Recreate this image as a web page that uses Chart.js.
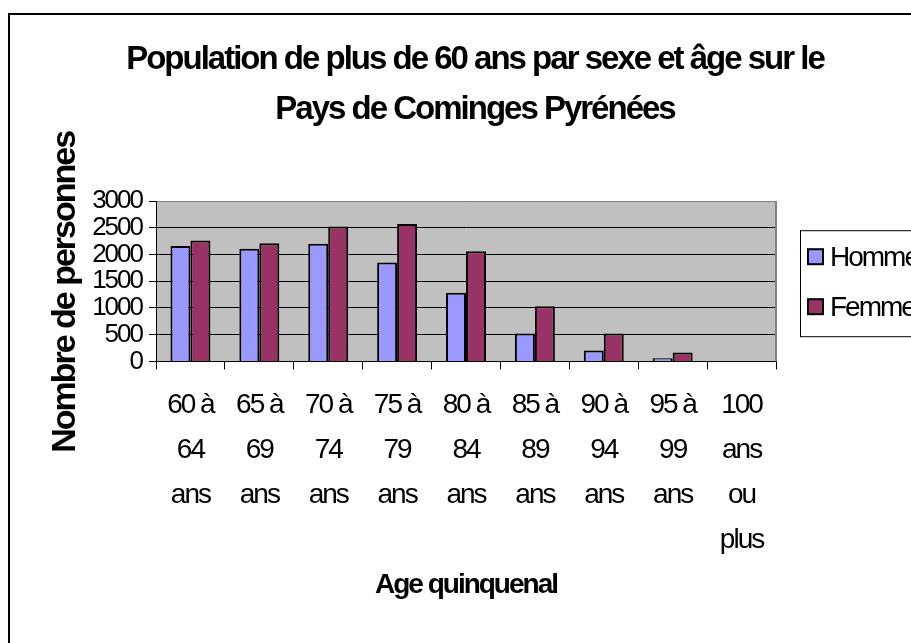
<!DOCTYPE html>
<html>
<head>
<meta charset="utf-8">
<script src="https://cdn.jsdelivr.net/npm/chart.js@4.4.1/dist/chart.umd.min.js"></script>
<style>
    html, body { margin: 0; padding: 0; overflow: hidden; background: #ffffff; }
    #graphe-container { width: 960px; height: 643px; }
</style>
</head>
<body>
<div id="graphe-container"><canvas id="graphPopulation" width="960" height="643"></canvas></div>
<script>
var ages = [
    ['60 à', '64', 'ans'], ['65 à', '69', 'ans'], ['70 à', '74', 'ans'],
    ['75 à', '79', 'ans'], ['80 à', '84', 'ans'], ['85 à', '89', 'ans'],
    ['90 à', '94', 'ans'], ['95 à', '99', 'ans'], ['100', 'ans', 'ou', 'plus']
];
var hommes = [2160, 2105, 2200, 1850, 1285, 520, 205, 60, 0];
var femmes = [2260, 2210, 2525, 2570, 2060, 1030, 520, 165, 0];
var titre = ['Population de plus de 60 ans par sexe et âge sur le', 'Pays de Cominges Pyrénées'];
var titreX = 'Age quinquenal';
// espaces en fin : le titre Excel est un peu plus bas que le milieu de l'axe
var titreY = 'Nombre de personnes   ';

var police = "'Liberation Sans', Arial, sans-serif";

Chart.defaults.color = '#000000';
Chart.defaults.font.family = police;

// texte serré comme dans l'original
var serrage = function (chart) {
    chart.ctx.letterSpacing = '-2px';
};

var cadre = {
    id: 'cadre',
    beforeUpdate: serrage,
    beforeDraw: function (chart) {
        serrage(chart);
        var ctx = chart.ctx;
        var a = chart.chartArea;
        ctx.save();
        ctx.fillStyle = '#ffffff';
        ctx.fillRect(0, 0, chart.width, chart.height);
        ctx.strokeStyle = '#000000';
        ctx.lineWidth = 2;
        ctx.strokeRect(9, 14, chart.width + 40, chart.height + 40);
        ctx.fillStyle = '#c0c0c0';
        ctx.fillRect(a.left, a.top, a.right - a.left, a.bottom - a.top);
        ctx.restore();
    },
    beforeDatasetsDraw: function (chart) {
        var ctx = chart.ctx;
        var a = chart.chartArea;
        ctx.save();
        ctx.strokeStyle = '#808080';
        ctx.lineWidth = 2;
        ctx.beginPath();
        ctx.moveTo(a.right, a.top);
        ctx.lineTo(a.right, a.bottom);
        ctx.stroke();
        ctx.restore();
    },
    // légende encadrée à droite
    afterDraw: function (chart) {
        var ctx = chart.ctx;
        var a = chart.chartArea;
        var milieu = (a.top + a.bottom) / 2;
        var gauche = a.right + 24;
        ctx.save();
        ctx.fillStyle = '#ffffff';
        ctx.fillRect(gauche, milieu - 51, 300, 106);
        ctx.strokeStyle = '#000000';
        ctx.lineWidth = 1;
        ctx.strokeRect(gauche + 0.5, milieu - 50.5, 300, 106);
        ctx.font = '28px ' + police;
        ctx.textBaseline = 'middle';
        chart.data.datasets.forEach(function (ds, i) {
            var y = milieu - 24 + i * 50;
            ctx.fillStyle = ds.backgroundColor;
            ctx.fillRect(gauche + 8, y - 8, 15, 15);
            ctx.strokeStyle = '#000000';
            ctx.lineWidth = 2;
            ctx.strokeRect(gauche + 8, y - 8, 15, 15);
            ctx.fillStyle = '#000000';
            ctx.fillText(ds.label, gauche + 30, y + 1);
        });
        ctx.restore();
    }
};

new Chart(document.getElementById('graphPopulation').getContext('2d'), {
    type: 'bar',
    data: {
        labels: ages,
        datasets: [{
            label: 'Hommes',
            data: hommes,
            backgroundColor: '#9999ff',
            borderColor: '#000000',
            borderWidth: 2,
            borderSkipped: 'start'
        }, {
            label: 'Femmes',
            data: femmes,
            backgroundColor: '#993366',
            borderColor: '#000000',
            borderWidth: 2,
            borderSkipped: 'start'
        }]
    },
    options: {
        responsive: false,
        animation: false,
        layout: { padding: { left: 40, right: 50, top: 20, bottom: 40 } },
        datasets: { bar: { categoryPercentage: 0.58, barPercentage: 1 } },
        plugins: {
            legend: { display: false },
            tooltip: { enabled: false },
            title: {
                display: true,
                text: titre,
                font: { size: 33, weight: 'bold', lineHeight: '50px' },
                padding: { top: 15, bottom: 66 }
            }
        },
        scales: {
            x: {
                grid: {
                    display: true,
                    drawOnChartArea: false,
                    drawTicks: true,
                    tickLength: 8,
                    color: '#000000',
                    offset: true
                },
                border: { display: true, color: '#000000', width: 1 },
                ticks: {
                    maxRotation: 0,
                    autoSkip: false,
                    padding: 13,
                    font: { size: 28, lineHeight: '45px' }
                },
                title: {
                    display: true,
                    text: titreX,
                    font: { size: 28, weight: 'bold' },
                    padding: { top: -7, bottom: 1 }
                }
            },
            y: {
                min: 0,
                max: 3000,
                ticks: {
                    stepSize: 500,
                    autoSkip: false,
                    padding: 7,
                    font: { size: 26 },
                    callback: function (v) { return String(v); }
                },
                grid: {
                    tickLength: 7,
                    color: function (c) { return c.tick && c.tick.value === 3000 ? '#808080' : '#000000'; },
                    tickColor: '#000000'
                },
                border: { display: true, color: '#000000', width: 1 },
                title: {
                    display: true,
                    text: titreY,
                    font: { size: 34, weight: 'bold' },
                    padding: { top: 5, bottom: 0 }
                },
                afterFit: function (s) { s.width = 116; }
            },
            reserve: {
                type: 'linear',
                position: 'right',
                display: true,
                grid: { display: false },
                ticks: { display: false },
                border: { display: false },
                afterFit: function (s) { s.width = 134; }
            }
        }
    },
    plugins: [cadre]
});
</script>
</body>
</html>
